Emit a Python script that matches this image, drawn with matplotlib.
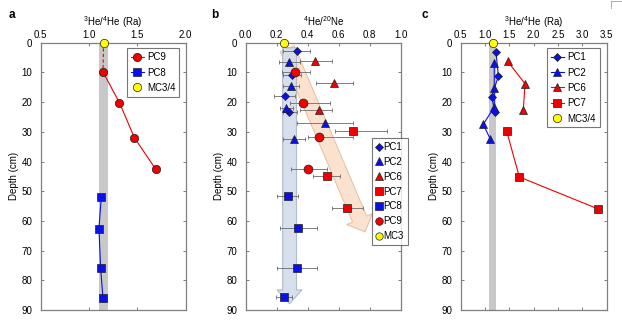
import numpy as np
import matplotlib.pyplot as plt
from matplotlib.patches import FancyArrowPatch
from matplotlib.lines import Line2D

plt.rcParams["font.family"] = ["Liberation Sans", "DejaVu Sans"]
plt.rcParams["mathtext.fontset"] = "custom"
plt.rcParams["mathtext.rm"] = "Liberation Sans"
plt.rcParams["font.size"] = 7

RED = "#f00000"
BLUE = "#0a10e8"
YELLOW = "#ffff00"
GREY = "#7f7f7f"
BAND = "#c8c8c8"

# ---- panel a : 3He/4He, PC8 / PC9 ----
a_pc9_depth = [9.9, 20.2, 32.0, 42.6]
a_pc9_ra = [1.145, 1.315, 1.47, 1.69]
a_pc8_depth = [51.9, 62.6, 75.8, 85.8]
a_pc8_ra = [1.127, 1.103, 1.12, 1.144]
a_mc_depth = [0.0]
a_mc_ra = [1.15]
a_band = (1.10, 1.20)

# ---- panel b : 4He/20Ne with error bars (lo, hi) ----
b_pc1_depth = [2.9, 10.8, 17.9, 23.5]
b_pc1_val = [0.329, 0.297, 0.254, 0.281]
b_pc1_lo = [0.243, 0.239, 0.185, 0.243]
b_pc1_hi = [0.415, 0.357, 0.318, 0.329]

b_pc2_depth = [6.5, 14.6, 21.9, 27.0, 32.3]
b_pc2_val = [0.281, 0.290, 0.260, 0.512, 0.314]
b_pc2_lo = [0.217, 0.243, 0.222, 0.329, 0.243]
b_pc2_hi = [0.350, 0.346, 0.308, 0.694, 0.383]

b_pc6_depth = [6.2, 13.6, 22.5]
b_pc6_val = [0.447, 0.570, 0.475]
b_pc6_lo = [0.350, 0.454, 0.350]
b_pc6_hi = [0.555, 0.694, 0.557]

b_pc7_depth = [29.8, 44.9, 55.8]
b_pc7_val = [0.694, 0.522, 0.656]
b_pc7_lo = [0.576, 0.436, 0.555]
b_pc7_hi = [0.910, 0.608, 0.759]

b_pc8_depth = [51.6, 62.3, 75.8, 85.6]
b_pc8_val = [0.271, 0.339, 0.329, 0.249]
b_pc8_lo = [0.200, 0.221, 0.200, 0.194]
b_pc8_hi = [0.339, 0.462, 0.462, 0.297]

b_pc9_depth = [9.9, 20.2, 31.9, 42.4]
b_pc9_val = [0.320, 0.368, 0.475, 0.400]
b_pc9_lo = [0.236, 0.286, 0.400, 0.292]
b_pc9_hi = [0.415, 0.544, 0.690, 0.522]

b_mc3_depth = [0.0]
b_mc3_val = [0.247]

# trend arrows (start, end) in data units
b_blue_arrow = ((0.283, 1.7), (0.283, 87.9))
b_orange_arrow = ((0.268, 2.0), (0.770, 63.7))

# ---- panel c : 3He/4He, PC1 / PC2 / PC6 / PC7 ----
c_pc1_depth = [3.1, 11.2, 18.3, 23.5]
c_pc1_ra = [1.226, 1.274, 1.138, 1.206]
c_pc2_depth = [6.7, 15.1, 21.6, 27.5, 32.3]
c_pc2_ra = [1.19, 1.19, 1.19, 0.965, 1.103]
c_pc6_depth = [6.3, 13.8, 22.8]
c_pc6_ra = [1.467, 1.823, 1.788]
c_pc7_depth = [29.8, 45.2, 56.0]
c_pc7_ra = [1.446, 1.706, 3.33]
c_mc_depth = [0.0]
c_mc_ra = [1.158]
c_band = (1.09, 1.22)

depth_ticks = np.arange(0, 91, 10)


def style_axis(ax, xlim, xticks, xlabel):
    ax.set_xlim(*xlim)
    ax.set_ylim(90, 0)
    ax.set_xticks(xticks)
    ax.set_yticks(depth_ticks)
    ax.set_xticklabels([f"{t:.1f}" for t in xticks])
    ax.xaxis.set_label_position("top")
    ax.set_xlabel(xlabel, labelpad=3)
    ax.set_ylabel("Depth (cm)", labelpad=2)
    ax.tick_params(axis="both", direction="in", length=2.5, width=0.6,
                   color="#666666", top=True, bottom=True, left=True,
                   right=True, labeltop=True, labelbottom=False, labelsize=7)
    ax.tick_params(axis="x", pad=2)
    ax.tick_params(axis="y", pad=6)
    for sp in ax.spines.values():
        sp.set_color(GREY)
        sp.set_linewidth(0.9)


def make_legend(ax, anchor, **kw):
    leg = ax.legend(loc="upper left", bbox_to_anchor=anchor, fontsize=7,
                    frameon=True, fancybox=False, borderpad=0.4,
                    borderaxespad=0, **kw)
    leg.get_frame().set_edgecolor("#555555")
    leg.get_frame().set_linewidth(0.8)
    return leg


mk = dict(markeredgecolor="#202020", markeredgewidth=0.5)

fig = plt.figure(figsize=(6.22, 3.23), dpi=100)
ax_a = fig.add_axes([0.0654, 0.0402, 0.2331, 0.8276])
ax_b = fig.add_axes([0.3950, 0.0402, 0.2492, 0.8276])
ax_c = fig.add_axes([0.7407, 0.0402, 0.2344, 0.8276])

he_label = r"$\mathregular{^{3}He/^{4}He\ (Ra)}$"

# panel a
ax_a.axvspan(*a_band, color=BAND, lw=0, zorder=0)
ax_a.plot([a_mc_ra[0], a_pc9_ra[0]], [a_mc_depth[0], a_pc9_depth[0]],
          ls=(0, (3, 2)), color=RED, lw=0.8, zorder=1)
ax_a.plot(a_pc9_ra, a_pc9_depth, "-o", color=RED, lw=0.8, ms=6,
          markerfacecolor=RED, label="PC9", **mk)
ax_a.plot(a_pc8_ra, a_pc8_depth, "-s", color=BLUE, lw=0.8, ms=5.8,
          markerfacecolor=BLUE, label="PC8", **mk)
ax_a.plot(a_mc_ra, a_mc_depth, "o", ms=6, markerfacecolor=YELLOW,
          label="MC3/4", clip_on=False, zorder=5, **mk)
style_axis(ax_a, (0.5, 2.0), [0.5, 1.0, 1.5, 2.0], he_label)
make_legend(ax_a, (0.593, 0.979), handlelength=1.4, handletextpad=0.3,
            labelspacing=0.55)

# panel b : trend arrows behind the data
arrow_specs = [
    (b_orange_arrow, "#fbdfca", "#e6bfa2", 11, 20, 10),
    (b_blue_arrow, "#d3dcea", "#aab6c8", 10, 18, 10),
]
for (p0, p1), fc, ec, tw, hw, hl in arrow_specs:
    arr = FancyArrowPatch(
        p0, p1, mutation_scale=1,
        arrowstyle=f"simple,tail_width={tw},head_width={hw},head_length={hl}",
        facecolor=fc, edgecolor=ec, lw=0.8, alpha=0.9, zorder=0,
        shrinkA=0, shrinkB=0)
    ax_b.add_patch(arr)

b_series = [
    ("PC1", b_pc1_depth, b_pc1_val, b_pc1_lo, b_pc1_hi, "D", BLUE, 4.5),
    ("PC2", b_pc2_depth, b_pc2_val, b_pc2_lo, b_pc2_hi, "^", BLUE, 6),
    ("PC6", b_pc6_depth, b_pc6_val, b_pc6_lo, b_pc6_hi, "^", RED, 6),
    ("PC7", b_pc7_depth, b_pc7_val, b_pc7_lo, b_pc7_hi, "s", RED, 6.2),
    ("PC8", b_pc8_depth, b_pc8_val, b_pc8_lo, b_pc8_hi, "s", BLUE, 6.2),
    ("PC9", b_pc9_depth, b_pc9_val, b_pc9_lo, b_pc9_hi, "o", RED, 6.4),
]
handles = []
for name, d, v, lo, hi, m, c, ms in b_series:
    v = np.array(v)
    xerr = [v - np.array(lo), np.array(hi) - v]
    ax_b.errorbar(v, d, xerr=xerr, fmt="none", ecolor="#6a6a6a",
                  elinewidth=0.6, capsize=1.5, capthick=0.6, zorder=2)
    ax_b.plot(v, d, ls="none", marker=m, ms=ms, markerfacecolor=c,
              zorder=3, **mk)
    handles.append(Line2D([], [], ls="none", marker=m, ms=ms * 0.85,
                          markerfacecolor=c, label=name, **mk))
ax_b.plot(b_mc3_val, b_mc3_depth, "o", ms=6, markerfacecolor=YELLOW,
          clip_on=False, zorder=5, **mk)
handles.append(Line2D([], [], ls="none", marker="o", ms=5.3,
                      markerfacecolor=YELLOW, label="MC3", **mk))
style_axis(ax_b, (0.0, 1.0), [0.0, 0.2, 0.4, 0.6, 0.8, 1.0],
           r"$\mathregular{^{4}He/^{20}Ne}$")
leg_b = make_legend(ax_b, (0.813, 0.643), handles=handles,
                    handlelength=0.6, handletextpad=0.2, labelspacing=0.5)
leg_b.set_zorder(6)

# panel c
ax_c.axvspan(*c_band, color=BAND, lw=0, zorder=0)
ax_c.plot(c_pc1_ra, c_pc1_depth, "-D", color=BLUE, lw=0.8, ms=4.5,
          markerfacecolor=BLUE, label="PC1", **mk)
ax_c.plot(c_pc2_ra, c_pc2_depth, "-^", color=BLUE, lw=0.8, ms=6,
          markerfacecolor=BLUE, label="PC2", **mk)
ax_c.plot(c_pc6_ra, c_pc6_depth, "-^", color=RED, lw=0.8, ms=6,
          markerfacecolor=RED, label="PC6", **mk)
ax_c.plot(c_pc7_ra, c_pc7_depth, "-s", color=RED, lw=0.8, ms=6,
          markerfacecolor=RED, label="PC7", **mk)
ax_c.plot(c_mc_ra, c_mc_depth, "o", ms=6, markerfacecolor=YELLOW,
          label="MC3/4", clip_on=False, zorder=5, **mk)
style_axis(ax_c, (0.5, 3.5), [0.5, 1.0, 1.5, 2.0, 2.5, 3.0, 3.5], he_label)
make_legend(ax_c, (0.59, 0.979), handlelength=1.4, handletextpad=0.3,
            labelspacing=0.55)

# panel letters
for x, letter in [(0.0188, "a"), (0.3457, "b"), (0.6833, "c")]:
    fig.text(x, 0.954, letter, fontsize=8.5, fontweight="bold",
             ha="center", va="center")

# small frame corner at the top right
fig.add_artist(Line2D([0.983, 1.0], [0.997, 0.997], color="#a0a0a0", lw=0.6))
fig.add_artist(Line2D([0.983, 0.983], [0.997, 0.975], color="#a0a0a0", lw=0.6))

fig.savefig("out.png", dpi=100)
